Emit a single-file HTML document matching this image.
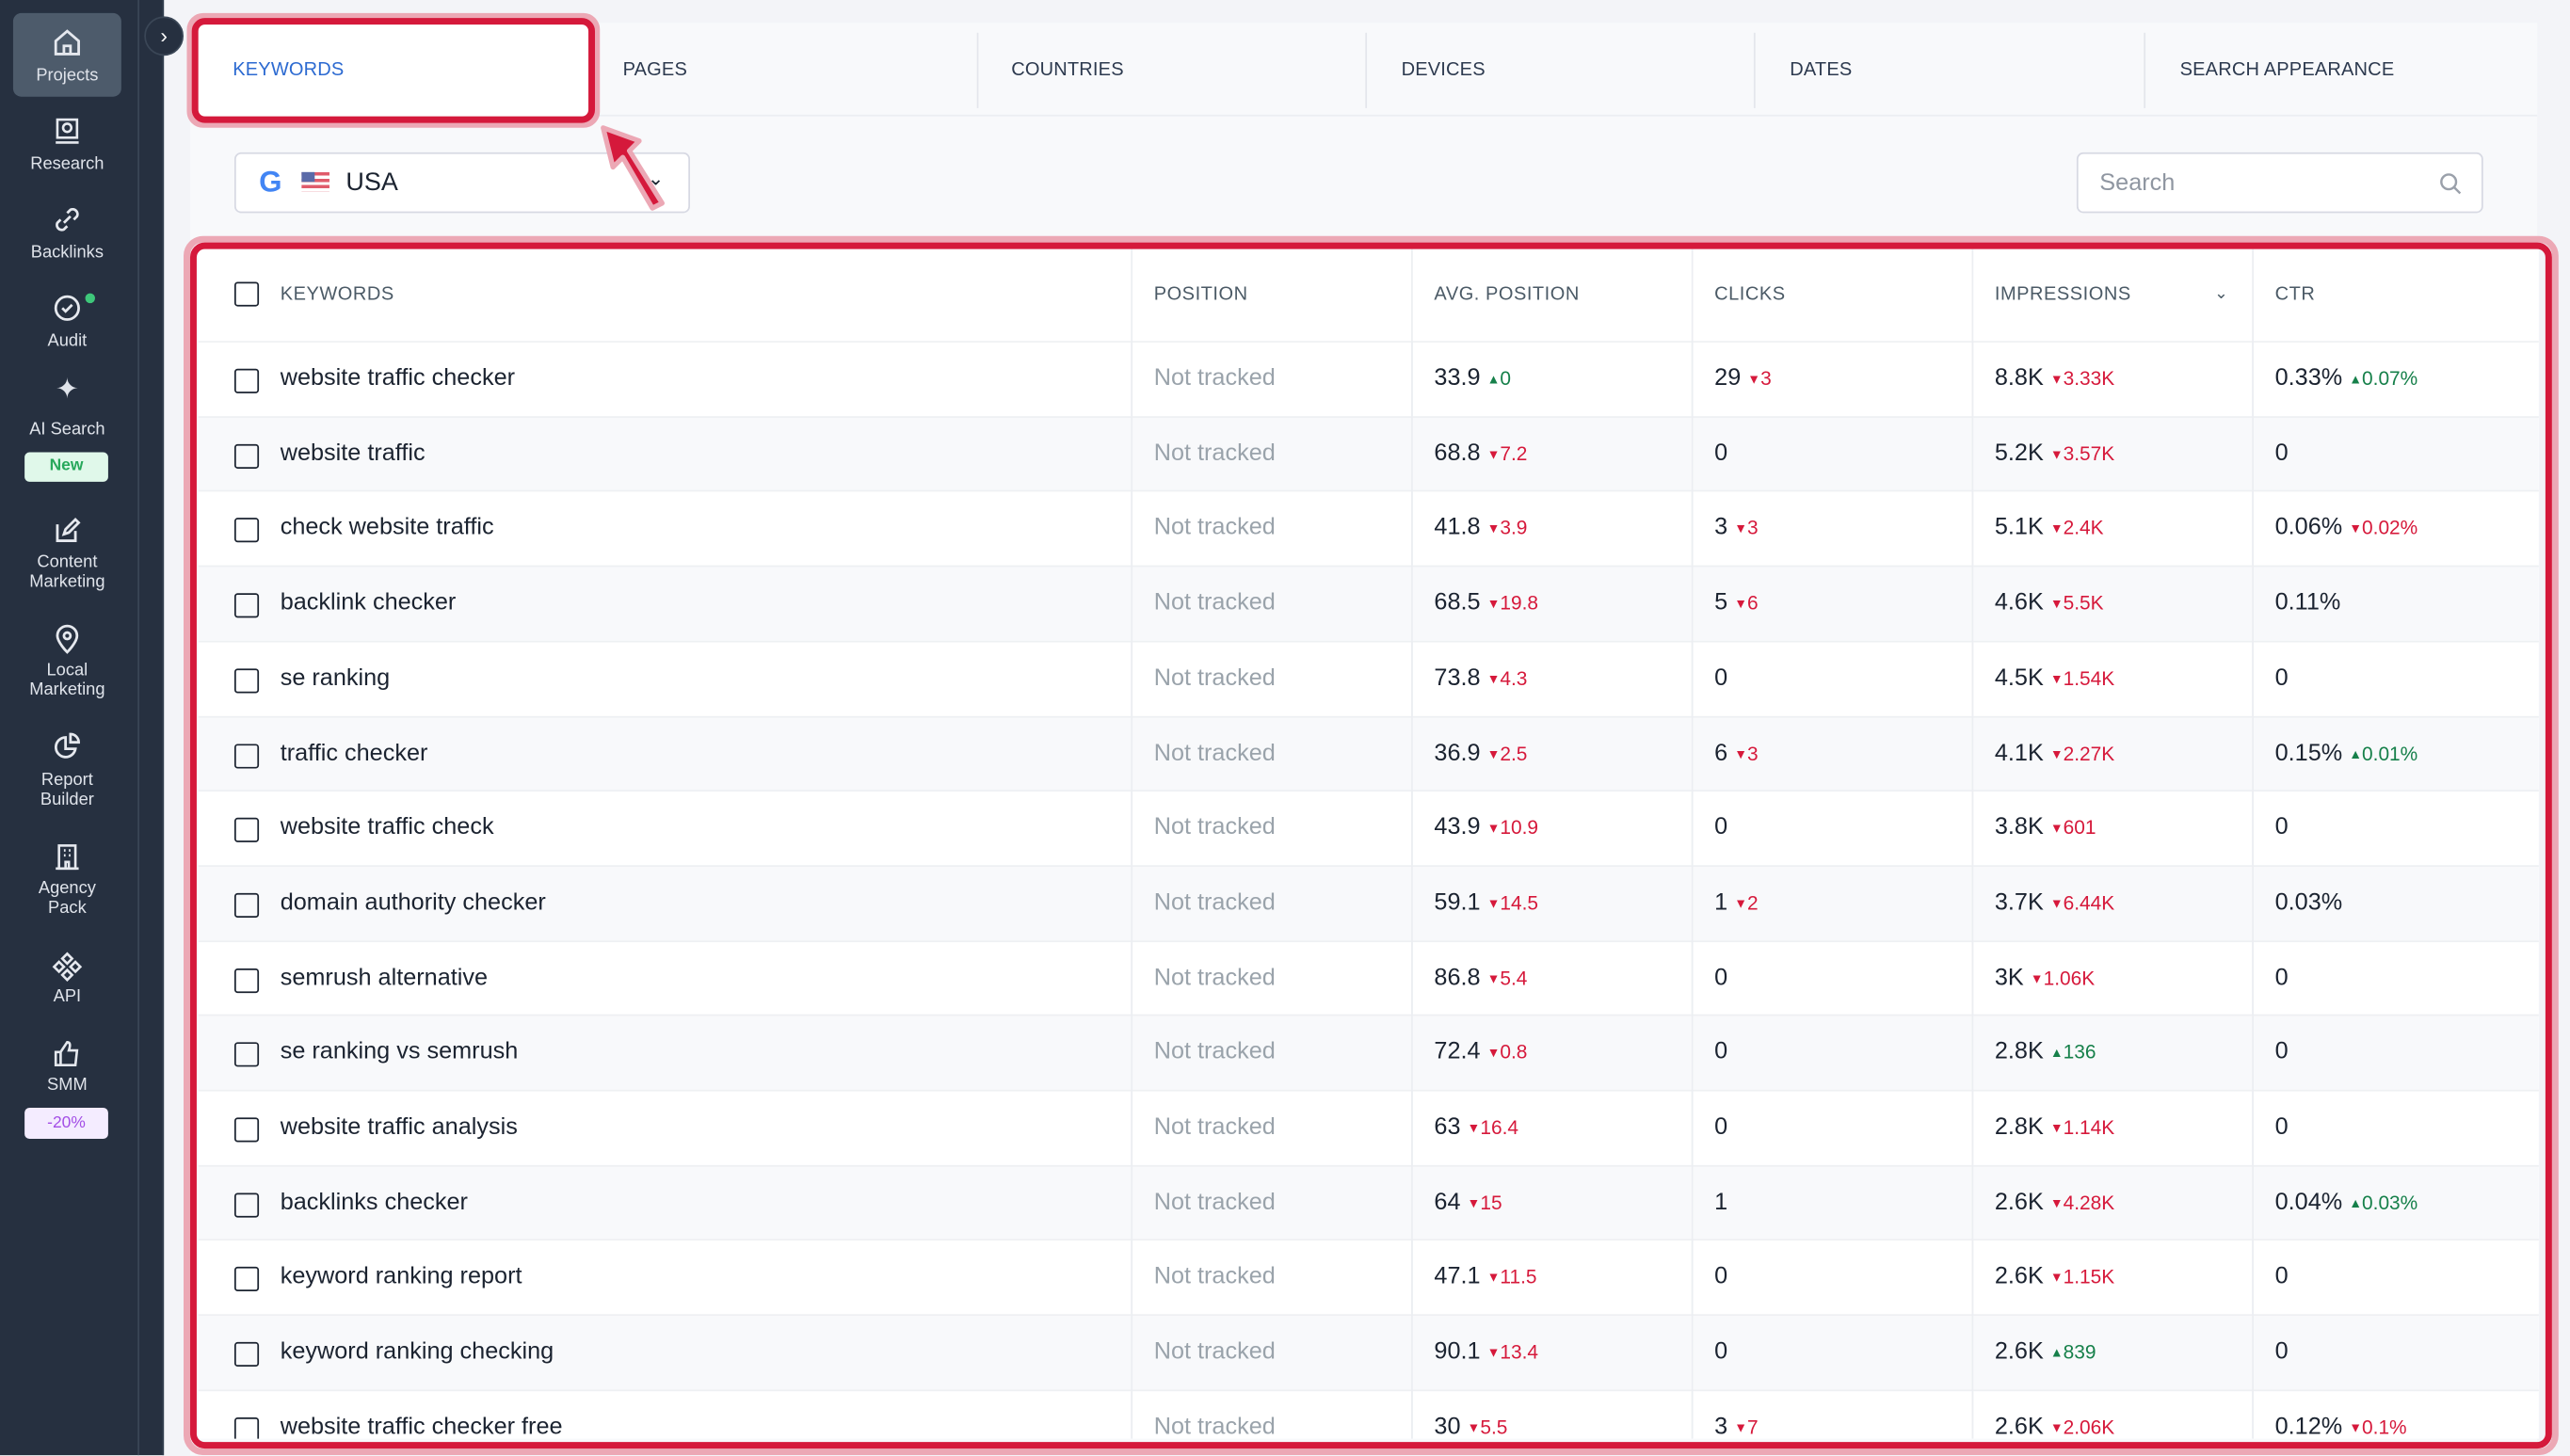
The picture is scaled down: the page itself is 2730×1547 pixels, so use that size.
<!DOCTYPE html>
<html><head><meta charset="utf-8"><style>
*{box-sizing:border-box;margin:0;padding:0}
html,body{width:2730px;height:1547px;overflow:hidden;background:#f3f4f8}
#w{position:absolute;left:0;top:0;width:1568px;height:888px;transform:scale(1.74107);transform-origin:0 0;font-family:"Liberation Sans",sans-serif;background:#f3f4f8;overflow:hidden}
.abs{position:absolute}
#side{left:0;top:0;width:100px;height:889px;background:#263040;border-right:1px solid #334050}
#side .ln{position:absolute;left:84px;top:0;width:1px;height:889px;background:#3a4656}
.si{position:absolute;left:0;width:82px;text-align:center;color:#dfe3ea;font-size:10.5px;line-height:12px}
.ic{position:absolute;left:31px;width:20px;height:20px}
#panel{left:116px;top:14px;width:1432px;height:880px;background:#f8f9fb}
.tab{position:absolute;top:23px;font-size:11.5px;color:#2d3a4f;letter-spacing:.1px}
.sep{position:absolute;top:6px;width:1px;height:46px;background:#e4e6ec}
.tbl{left:121px;top:152px;width:1428px;height:726px;background:#fff;overflow:hidden}
.row{position:absolute;left:0;width:1428px;height:45.7px;border-top:1px solid #eef0f3}
.row.a{background:#f8f9fb}
.row span{position:absolute;top:14px;font-size:14.5px;color:#1b2330;white-space:nowrap}
.cb{position:absolute;left:22px;top:16px;width:15px;height:15px;border:1.6px solid #1b2330;border-radius:2px}
.nt{color:#9aa3ab!important}
.dn{color:#d6193b;font-size:12px;font-style:normal}
.up{color:#16804a;font-size:12px;font-style:normal}
.dn i,.up i{font-size:8px;font-style:normal;vertical-align:1px}
.vl{position:absolute;top:0;width:1px;height:726px;background:#eceef2}
.hd{position:absolute;top:22px;font-size:11.5px;color:#4b5a66;letter-spacing:.3px}
</style></head><body><div id="w">
<div id="side" class="abs"><div class="ln"></div>
<div class="abs" style="left:8px;top:8px;width:66px;height:51px;background:#4d5b6b;border-radius:5px"></div>
<svg class="ic" style="top:16px" viewBox="0 0 20 20" fill="none" stroke="#e5e8ee" stroke-width="1.6"><path d="M3 9L10 3l7 6v8H3z M8 17v-5h4v5"/></svg>
<div class="si" style="top:40px">Projects</div>
<svg class="ic" style="top:70px" viewBox="0 0 20 20" fill="none" stroke="#e5e8ee" stroke-width="1.5"><rect x="4" y="3" width="12" height="11"/><path d="M3 17h14"/><circle cx="10" cy="8" r="2.5"/></svg>
<div class="si" style="top:94px">Research</div>
<svg class="ic" style="top:124px" viewBox="0 0 20 20" fill="none" stroke="#e5e8ee" stroke-width="1.6"><path d="M8 12l4-4M6 10l-2 2a3 3 0 004 4l2-2M14 10l2-2a3 3 0 00-4-4l-2 2"/></svg>
<div class="si" style="top:148px">Backlinks</div>
<svg class="ic" style="top:178px" viewBox="0 0 20 20" fill="none" stroke="#e5e8ee" stroke-width="1.6"><circle cx="10" cy="10" r="7"/><path d="M7 10l2 2 4-4"/></svg>
<div class="abs" style="left:52px;top:179px;width:6px;height:6px;border-radius:3px;background:#3ec77a"></div>
<div class="si" style="top:202px">Audit</div>
<div class="si" style="top:232px;font-size:17px">✦</div>
<div class="si" style="top:256px">AI Search</div>
<div class="abs" style="left:15px;top:276px;width:51px;height:18px;background:#e0f8ea;border-radius:3px;color:#27a85b;font-size:10px;font-weight:bold;text-align:center;line-height:18px">New</div>
<svg class="ic" style="top:314px" viewBox="0 0 20 20" fill="none" stroke="#e5e8ee" stroke-width="1.6"><path d="M4 6v10h11v-6M8 12l1-3 6-6 2 2-6 6z"/></svg>
<div class="si" style="top:337px">Content<br>Marketing</div>
<svg class="ic" style="top:380px" viewBox="0 0 20 20" fill="none" stroke="#e5e8ee" stroke-width="1.6"><path d="M10 18s-6-6-6-10a6 6 0 0112 0c0 4-6 10-6 10z"/><circle cx="10" cy="8" r="2"/></svg>
<div class="si" style="top:403px">Local<br>Marketing</div>
<svg class="ic" style="top:446px" viewBox="0 0 20 20" fill="none" stroke="#e5e8ee" stroke-width="1.6"><path d="M9 4a6 6 0 106 7H9z M12 2v5h5a5 5 0 00-5-5z"/></svg>
<div class="si" style="top:470px">Report<br>Builder</div>
<svg class="ic" style="top:513px" viewBox="0 0 20 20" fill="none" stroke="#e5e8ee" stroke-width="1.5"><rect x="5" y="3" width="10" height="14"/><path d="M3 17h14M8 6h1M11 6h1M8 9h1M11 9h1M9 17v-4h2v4"/></svg>
<div class="si" style="top:536px">Agency<br>Pack</div>
<svg class="ic" style="top:580px" viewBox="0 0 20 20" fill="none" stroke="#e5e8ee" stroke-width="1.5"><path d="M10 2l3 3-3 3-3-3zM10 12l3 3-3 3-3-3zM5 7l3 3-3 3-3-3zM15 7l3 3-3 3-3-3z"/></svg>
<div class="si" style="top:602px">API</div>
<svg class="ic" style="top:633px" viewBox="0 0 20 20" fill="none" stroke="#e5e8ee" stroke-width="1.5"><path d="M3 9h3v8H3zM6 9l4-6c2 0 2 2 1 5h5l-1 9H6"/></svg>
<div class="si" style="top:656px">SMM</div>
<div class="abs" style="left:15px;top:676px;width:51px;height:19px;background:#f4ecff;border-radius:3px;color:#a34ee6;font-size:10px;text-align:center;line-height:19px">-20%</div>
</div>
<div class="abs" style="left:88px;top:10px;width:24px;height:24px;border-radius:12px;background:#263040;border:1px solid #3a4656;color:#fff;font-size:13px;text-align:center;line-height:22px">›</div>
<div id="panel" class="abs">
<div class="abs" style="left:0;top:0;width:1432px;height:57px;background:#f8f9fb;border-bottom:1px solid #eceef2"></div>
</div>
<div class="abs" style="left:116px;top:14px;width:1432px;height:60px">
<div class="abs" style="left:4px;top:0;width:242px;height:57px;background:#fff"></div>
<div class="tab" style="left:26px;color:#2c6ad1">KEYWORDS</div>
<div class="tab" style="left:264px">PAGES</div>
<div class="sep" style="left:480px"></div>
<div class="tab" style="left:501px">COUNTRIES</div>
<div class="sep" style="left:717px"></div>
<div class="tab" style="left:739px">DEVICES</div>
<div class="sep" style="left:954px"></div>
<div class="tab" style="left:976px">DATES</div>
<div class="sep" style="left:1192px"></div>
<div class="tab" style="left:1214px">SEARCH APPEARANCE</div>
</div>
<div class="abs" style="left:143px;top:93px;width:278px;height:37px;background:#fff;border:1.5px solid #d7d9e3;border-radius:4px"></div>
<div class="abs" style="left:158px;top:101px;font-size:18px;font-weight:bold;color:#4285f4">G</div>
<div class="abs" style="left:184px;top:105px;width:17px;height:12px;background:repeating-linear-gradient(#e05b6b 0 2px,#fff 2px 4px)"><div style="width:8px;height:6px;background:#5a6aa8"></div></div>
<div class="abs" style="left:211px;top:103px;font-size:15.5px;color:#1b2330">USA</div>
<div class="abs" style="left:395px;top:102px;font-size:12px;color:#1b2330">⌄</div>
<div class="abs" style="left:1267px;top:93px;width:248px;height:37px;background:#fff;border:1.5px solid #d7d9e3;border-radius:4px"></div>
<div class="abs" style="left:1281px;top:104px;font-size:14.5px;color:#8f96a1">Search</div>
<svg class="abs" style="left:1488px;top:105px" width="14" height="14" viewBox="0 0 14 14" fill="none" stroke="#9aa0aa" stroke-width="1.4"><circle cx="6" cy="6" r="4.5"/><path d="M9.5 9.5L13 13"/></svg>

<div class="tbl abs">
<div class="vl" style="left:569px"></div><div class="vl" style="left:740px"></div><div class="vl" style="left:911px"></div><div class="vl" style="left:1082px"></div><div class="vl" style="left:1253px"></div>
<div class="cb" style="top:20px"></div>
<div class="hd" style="left:50px">KEYWORDS</div><div class="hd" style="left:583px">POSITION</div><div class="hd" style="left:754px">AVG. POSITION</div><div class="hd" style="left:925px">CLICKS</div><div class="hd" style="left:1096px">IMPRESSIONS</div><div class="hd" style="left:1230px;font-size:10px">⌄</div><div class="hd" style="left:1267px">CTR</div>
</div>
<div id="rows" class="abs" style="left:121px;top:208px;width:1428px;height:670px;overflow:hidden"></div>
<script>
const d=[["website traffic checker","33.9",["u","0"],"29",["d","3"],"8.8K",["d","3.33K"],"0.33%",["u","0.07%"]],
["website traffic","68.8",["d","7.2"],"0",0,"5.2K",["d","3.57K"],"0",0],
["check website traffic","41.8",["d","3.9"],"3",["d","3"],"5.1K",["d","2.4K"],"0.06%",["d","0.02%"]],
["backlink checker","68.5",["d","19.8"],"5",["d","6"],"4.6K",["d","5.5K"],"0.11%",0],
["se ranking","73.8",["d","4.3"],"0",0,"4.5K",["d","1.54K"],"0",0],
["traffic checker","36.9",["d","2.5"],"6",["d","3"],"4.1K",["d","2.27K"],"0.15%",["u","0.01%"]],
["website traffic check","43.9",["d","10.9"],"0",0,"3.8K",["d","601"],"0",0],
["domain authority checker","59.1",["d","14.5"],"1",["d","2"],"3.7K",["d","6.44K"],"0.03%",0],
["semrush alternative","86.8",["d","5.4"],"0",0,"3K",["d","1.06K"],"0",0],
["se ranking vs semrush","72.4",["d","0.8"],"0",0,"2.8K",["u","136"],"0",0],
["website traffic analysis","63",["d","16.4"],"0",0,"2.8K",["d","1.14K"],"0",0],
["backlinks checker","64",["d","15"],"1",0,"2.6K",["d","4.28K"],"0.04%",["u","0.03%"]],
["keyword ranking report","47.1",["d","11.5"],"0",0,"2.6K",["d","1.15K"],"0",0],
["keyword ranking checking","90.1",["d","13.4"],"0",0,"2.6K",["u","839"],"0",0],
["website traffic checker free","30",["d","5.5"],"3",["d","7"],"2.6K",["d","2.06K"],"0.12%",["d","0.1%"]]];
const ch=c=>c?` <em class="${c[0]=='u'?'up':'dn'}"><i>${c[0]=='u'?'▲':'▼'}</i>${c[1]}</em>`:'';
let h='';d.forEach((r,i)=>{h+=`<div class="row ${i%2?'a':''}" style="top:${i*45.7}px"><div class="cb"></div><span style="left:50px">${r[0]}</span><span class="nt" style="left:583px">Not tracked</span><span style="left:754px">${r[1]}${ch(r[2])}</span><span style="left:925px">${r[3]}${ch(r[4])}</span><span style="left:1096px">${r[5]}${ch(r[6])}</span><span style="left:1267px">${r[7]}${ch(r[8])}</span></div>`});
document.getElementById('rows').innerHTML=h+'<div class="vl" style="left:569px"></div><div class="vl" style="left:740px"></div><div class="vl" style="left:911px"></div><div class="vl" style="left:1082px"></div><div class="vl" style="left:1253px"></div>';
</script>
<div class="abs" style="left:114px;top:8px;width:252px;height:70px;border:4px solid #eca8b5;border-radius:10px"></div>
<div class="abs" style="left:117px;top:11px;width:246px;height:64px;border:4px solid #d5193b;border-radius:8px"></div>
<div class="abs" style="left:112px;top:144px;width:1449px;height:744px;border:4px solid #eca8b5;border-radius:12px"></div>
<div class="abs" style="left:116px;top:148px;width:1441px;height:736px;border:4px solid #d5193b;border-radius:9px"></div>
<svg class="abs" style="left:360px;top:72px" width="60" height="60" viewBox="0 0 60 60"><path d="M8 6L30 14 24 20 44 52 38 55 20 24 14 30z" fill="#d5193b" stroke="#eca8b5" stroke-width="3" stroke-linejoin="round"/></svg>
</div></body></html>
